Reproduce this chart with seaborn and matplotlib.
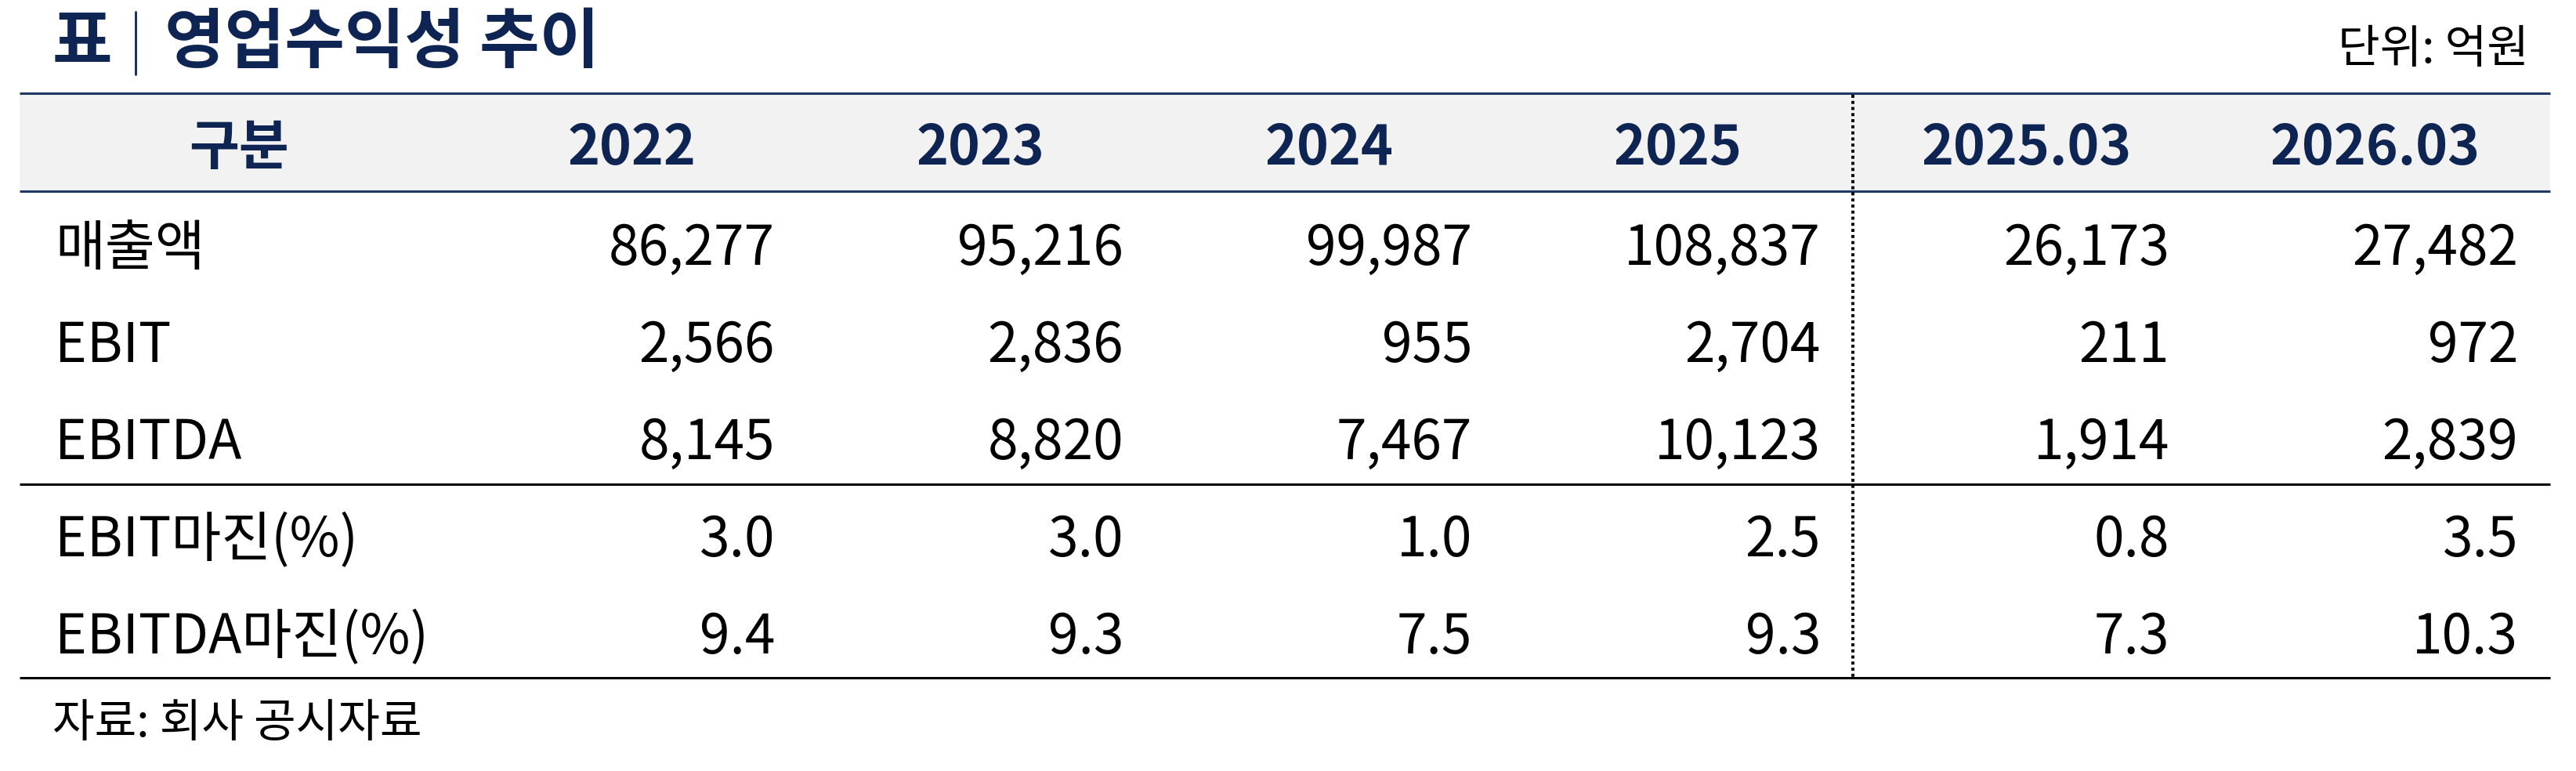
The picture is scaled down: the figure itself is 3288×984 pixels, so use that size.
import matplotlib
matplotlib.use("Agg")
import matplotlib.pyplot as plt
import seaborn as sns

# table data
columns = ["2022", "2023", "2024", "2025", "2025.03", "2026.03"]
row_labels = ["매출액", "EBIT", "EBITDA", "EBIT마진(%)", "EBITDA마진(%)"]
sales = [86277, 95216, 99987, 108837, 26173, 27482]
ebit = [2566, 2836, 955, 2704, 211, 972]
ebitda = [8145, 8820, 7467, 10123, 1914, 2839]
ebit_margin = [3.0, 3.0, 1.0, 2.5, 0.8, 3.5]
ebitda_margin = [9.4, 9.3, 7.5, 9.3, 7.3, 10.3]

title = "영업수익성 추이"
unit_text = "단위: 억원"
source_text = "자료: 회사 공시자료"

sns.set_theme(style="white")
plt.rcParams["font.family"] = ["Noto Sans CJK KR", "DejaVu Sans"]

navy = "#0e2452"
line_navy = "#1f3864"

W, H = 3288, 984
fig = plt.figure(figsize=(W / 200, H / 200), dpi=200)
ax = fig.add_axes([0, 0, 1, 1])
ax.set_xlim(0, W)
ax.set_ylim(H, 0)
ax.axis("off")

left, right = 25, 3255
col_left = 584
col_w = 445

# title block
ax.text(67, 80, "표", fontsize=30, fontweight="bold", color=navy, va="baseline")
ax.plot([173, 173], [15, 95], color=navy, lw=1.0)
ax.text(210, 80, title, fontsize=30, fontweight="bold", color=navy, va="baseline")
ax.text(3228, 80, unit_text, fontsize=21, color="black", ha="right", va="baseline")

# header band
ax.add_patch(plt.Rectangle((left, 120), right - left, 123, color="#f2f2f2", lw=0))
ax.plot([left, right], [119, 119], color=line_navy, lw=1.1, solid_capstyle="butt")
ax.plot([left, right], [244, 244], color=line_navy, lw=1.1, solid_capstyle="butt")

ax.text(305, 210, "구분", fontsize=25, fontweight="bold", color=navy, ha="center", va="baseline")
for i, c in enumerate(columns):
    cx = col_left + col_w * i + col_w / 2 - 0
    ax.text(cx, 210, c, fontsize=25, fontweight="bold", color=navy, ha="center", va="baseline")

# body
rows = [
    [f"{v:,}" for v in sales],
    [f"{v:,}" for v in ebit],
    [f"{v:,}" for v in ebitda],
    [f"{v:.1f}" for v in ebit_margin],
    [f"{v:.1f}" for v in ebitda_margin],
]
base0 = 338
step = 124
for r, (lab, vals) in enumerate(zip(row_labels, rows)):
    y = base0 + step * r
    ax.text(70, y, lab, fontsize=25, color="black", va="baseline")
    for i, s in enumerate(vals):
        rx = col_left + col_w * (i + 1) - 40
        ax.text(rx, y, s, fontsize=25, color="black", ha="right", va="baseline")

# rules
ax.plot([left, right], [618, 618], color="black", lw=1.1, solid_capstyle="butt")
ax.plot([left, right], [865, 865], color="black", lw=1.1, solid_capstyle="butt")
ax.plot([2365, 2365], [121, 864], color="black", lw=1.4, linestyle=(0, (1, 1)))

ax.text(67, 940, source_text, fontsize=21, color="black", va="baseline")

fig.savefig("out.png", dpi=200)
